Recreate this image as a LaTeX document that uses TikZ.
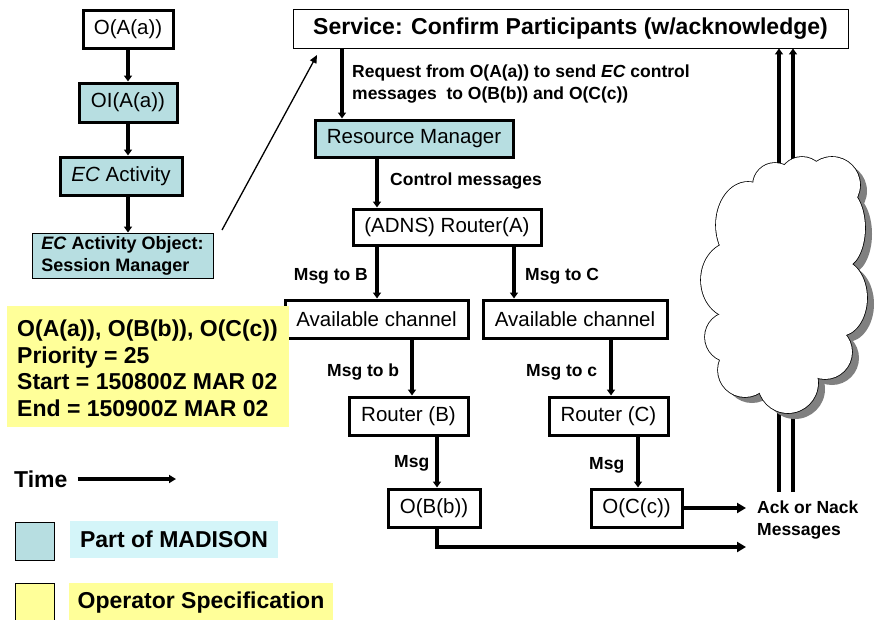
\documentclass[tikz,border=0pt]{standalone}
\usepackage{fontspec}
\setmainfont{Liberation Sans}
\usetikzlibrary{arrows.meta}
\definecolor{tealc}{RGB}{183,222,225}
\definecolor{cyanc}{RGB}{212,245,249}
\definecolor{yelc}{RGB}{255,255,153}
\definecolor{shadowc}{RGB}{128,128,128}
\newcommand\nfont{\fontsize{20.5}{24}\selectfont}
\newcommand\lfont{\fontsize{17.5}{21.5}\selectfont\bfseries}
\newcommand\efont{\fontsize{18}{22}\selectfont\bfseries}
\newcommand\bfont{\fontsize{23}{26.5}\selectfont\bfseries}
\newcommand\cloudparts{748/225/32/43, 775/185/22/22, 802/180/23/23, 832/185/28/28, 843/228/22/40, 840/298/27/38, 825/352/27/27, 788/383/30/30, 745/370/27/27, 730/337/25/25, 733/280/32/38}
\begin{document}
\begin{tikzpicture}[x=1pt,y=-1pt,
 box/.style={draw, line width=3pt, inner sep=0pt, font=\nfont},
 thinbox/.style={draw, line width=0.9pt, inner sep=0pt},
 lbl/.style={font=\lfont, anchor=west, inner sep=0pt, align=left},
 arr/.style={line width=3.5pt, -{Triangle[length=6pt,width=8pt]}},
 arrbig/.style={line width=3.5pt, -{Triangle[length=9pt,width=10pt]}},
 thinarr/.style={line width=1.3pt, -{Triangle[length=8pt,width=7pt]}},
]
\useasboundingbox (0,0) rectangle (876,619);

% left chain
\node[box, minimum width=90pt, minimum height=38pt] (oa) at (128,29) {O(A(a))};
\node[box, fill=tealc, minimum width=98pt, minimum height=39pt] (oi) at (128,102.5) {OI(A(a))};
\node[box, fill=tealc, minimum width=122pt, minimum height=38pt] (ec) at (121,176) {\textit{EC} Activity};
\node[thinbox, fill=tealc, minimum width=181pt, minimum height=45pt, font=\efont, align=left] (eco) at (122.5,255.5) {\textit{EC} Activity Object:\\Session Manager};
\draw[arr] (oa.south) -- (oi.north);
\draw[arr] (oi.south) -- (oi.south |- ec.north);
\draw[arr] (ec.south -| oi.south) -- (eco.north -| oi.south);

% service
\node[thinbox, font=\bfont, minimum width=555pt, minimum height=39pt] (svc) at (570.5,28.5) {Service: Confirm Participants (w/acknowledge)};
\coordinate (d1) at (222,230);
\coordinate (d2) at (317,55);
\draw[thinarr] (d1) -- (d2);

% x positions of connectors
\coordinate (xa) at (342,0);
\coordinate (xb) at (377,0);
\coordinate (xc) at (514,0);
\coordinate (xd) at (412,0);
\coordinate (xe) at (611,0);
\coordinate (xf) at (437,0);
\coordinate (xg) at (638,0);

\node[box, fill=tealc, minimum width=198pt, minimum height=37pt] (rm) at (414,138.5) {Resource Manager};
\node[lbl] (req) at (352,84) {Request from O(A(a)) to send \textit{EC} control\\messages~ to O(B(b)) and O(C(c))};
\draw[arr] (svc.south -| xa) -- (rm.north -| xa);

\node[box, minimum width=188pt, minimum height=36pt] (ra) at (447,227) {(ADNS) Router(A)};
\node[lbl] (cm) at (390,181) {Control messages};
\draw[arr] (rm.south -| xb) -- (ra.north -| xb);

\node[box, minimum width=183pt, minimum height=38pt] (ch1) at (376.5,319) {Available channel};
\node[box, minimum width=184pt, minimum height=38pt] (ch2) at (575,319) {Available channel};
\draw[arr] (ra.south -| xb) -- (ch1.north -| xb);
\draw[arr] (ra.south -| xc) -- (ch2.north -| xc);
\node[lbl, anchor=east] (mB) at (368,276) {Msg to B};
\node[lbl] (mC) at (525,276) {Msg to C};

\node[box, minimum width=119pt, minimum height=38pt] (rb) at (408.5,416) {Router (B)};
\node[box, minimum width=119pt, minimum height=38pt] (rc) at (608.5,416) {Router (C)};
\draw[arr] (ch1.south -| xd) -- (rb.north -| xd);
\draw[arr] (ch2.south -| xe) -- (rc.north -| xe);
\node[lbl] (mb) at (327,372) {Msg to b};
\node[lbl] (mc) at (526,372) {Msg to c};

\node[box, minimum width=92pt, minimum height=38pt] (ob) at (434,508) {O(B(b))};
\node[box, minimum width=91pt, minimum height=38pt] (oc) at (636.5,508) {O(C(c))};
\draw[arr] (rb.south -| xf) -- (ob.north -| xf);
\draw[arr] (rc.south -| xg) -- (oc.north -| xg);
\node[lbl] (m1) at (394,463) {Msg};
\node[lbl] (m2) at (589,465) {Msg};

% right side: two lines behind the cloud
\coordinate (v1) at (779,492);
\coordinate (v2) at (793,492);
\draw[line width=4pt, -{Triangle[length=6pt,width=8pt]}] (v1) -- (v1 |- svc.south);
\draw[line width=4pt, -{Triangle[length=6pt,width=8pt]}] (v2) -- (v2 |- svc.south);
% cloud: shadow, outline, white fill
\foreach \cx/\cy/\rx/\ry in \cloudparts {
  \fill[shadowc] (\cx+7,\cy+6) ellipse[x radius=\rx pt, y radius=\ry pt];
}
\fill[shadowc] (792,286) ellipse[x radius=60pt, y radius=90pt];
\foreach \cx/\cy/\rx/\ry in \cloudparts {
  \draw[line width=1.6pt] (\cx,\cy) ellipse[x radius=\rx pt, y radius=\ry pt];
}
\foreach \cx/\cy/\rx/\ry in \cloudparts {
  \fill[white] (\cx,\cy) ellipse[x radius=\rx pt, y radius=\ry pt];
}
\fill[white] (785,280) ellipse[x radius=60pt, y radius=90pt];

\coordinate (ackend) at (746,508);
\coordinate (bk) at (746,547);
\draw[arrbig] (oc.east) -- (ackend);
\draw[arrbig] (ob.south -| xf) |- (bk);
\node[lbl] (ack) at (757,520) {Ack or Nack\\Messages};

% spec box
\node[fill=yelc, minimum width=282pt, minimum height=121pt, inner sep=0pt] (spec) at (148,366.5) {};
\node[font=\bfont, anchor=west, align=left, inner sep=0pt] (spect) at (17,368.5) {O(A(a)), O(B(b)), O(C(c))\\Priority = 25\\Start = 150800Z MAR 02\\End = 150900Z MAR 02};

% time
\node[font=\bfont, anchor=west, inner sep=0pt] (time) at (14,479) {Time};
\coordinate (te) at (176,479);
\draw[line width=4pt, -{Triangle[length=7pt,width=8pt]}] ([xshift=10pt]time.east) -- (te);

% legend
\node[thinbox, fill=tealc, minimum width=39pt, minimum height=38pt] (lg1) at (34.5,541) {};
\node[fill=cyanc, minimum width=208pt, minimum height=37pt, inner sep=0pt, font=\bfont] (lg1t) at (174,539.5) {Part of MADISON};
\node[thinbox, fill=yelc, minimum width=39pt, minimum height=40pt] (lg2) at (34.5,603) {};
\node[fill=yelc, minimum width=264pt, minimum height=40pt, inner sep=0pt, font=\bfont] (lg2t) at (201,603) {Operator Specification};
\end{tikzpicture}
\end{document}
